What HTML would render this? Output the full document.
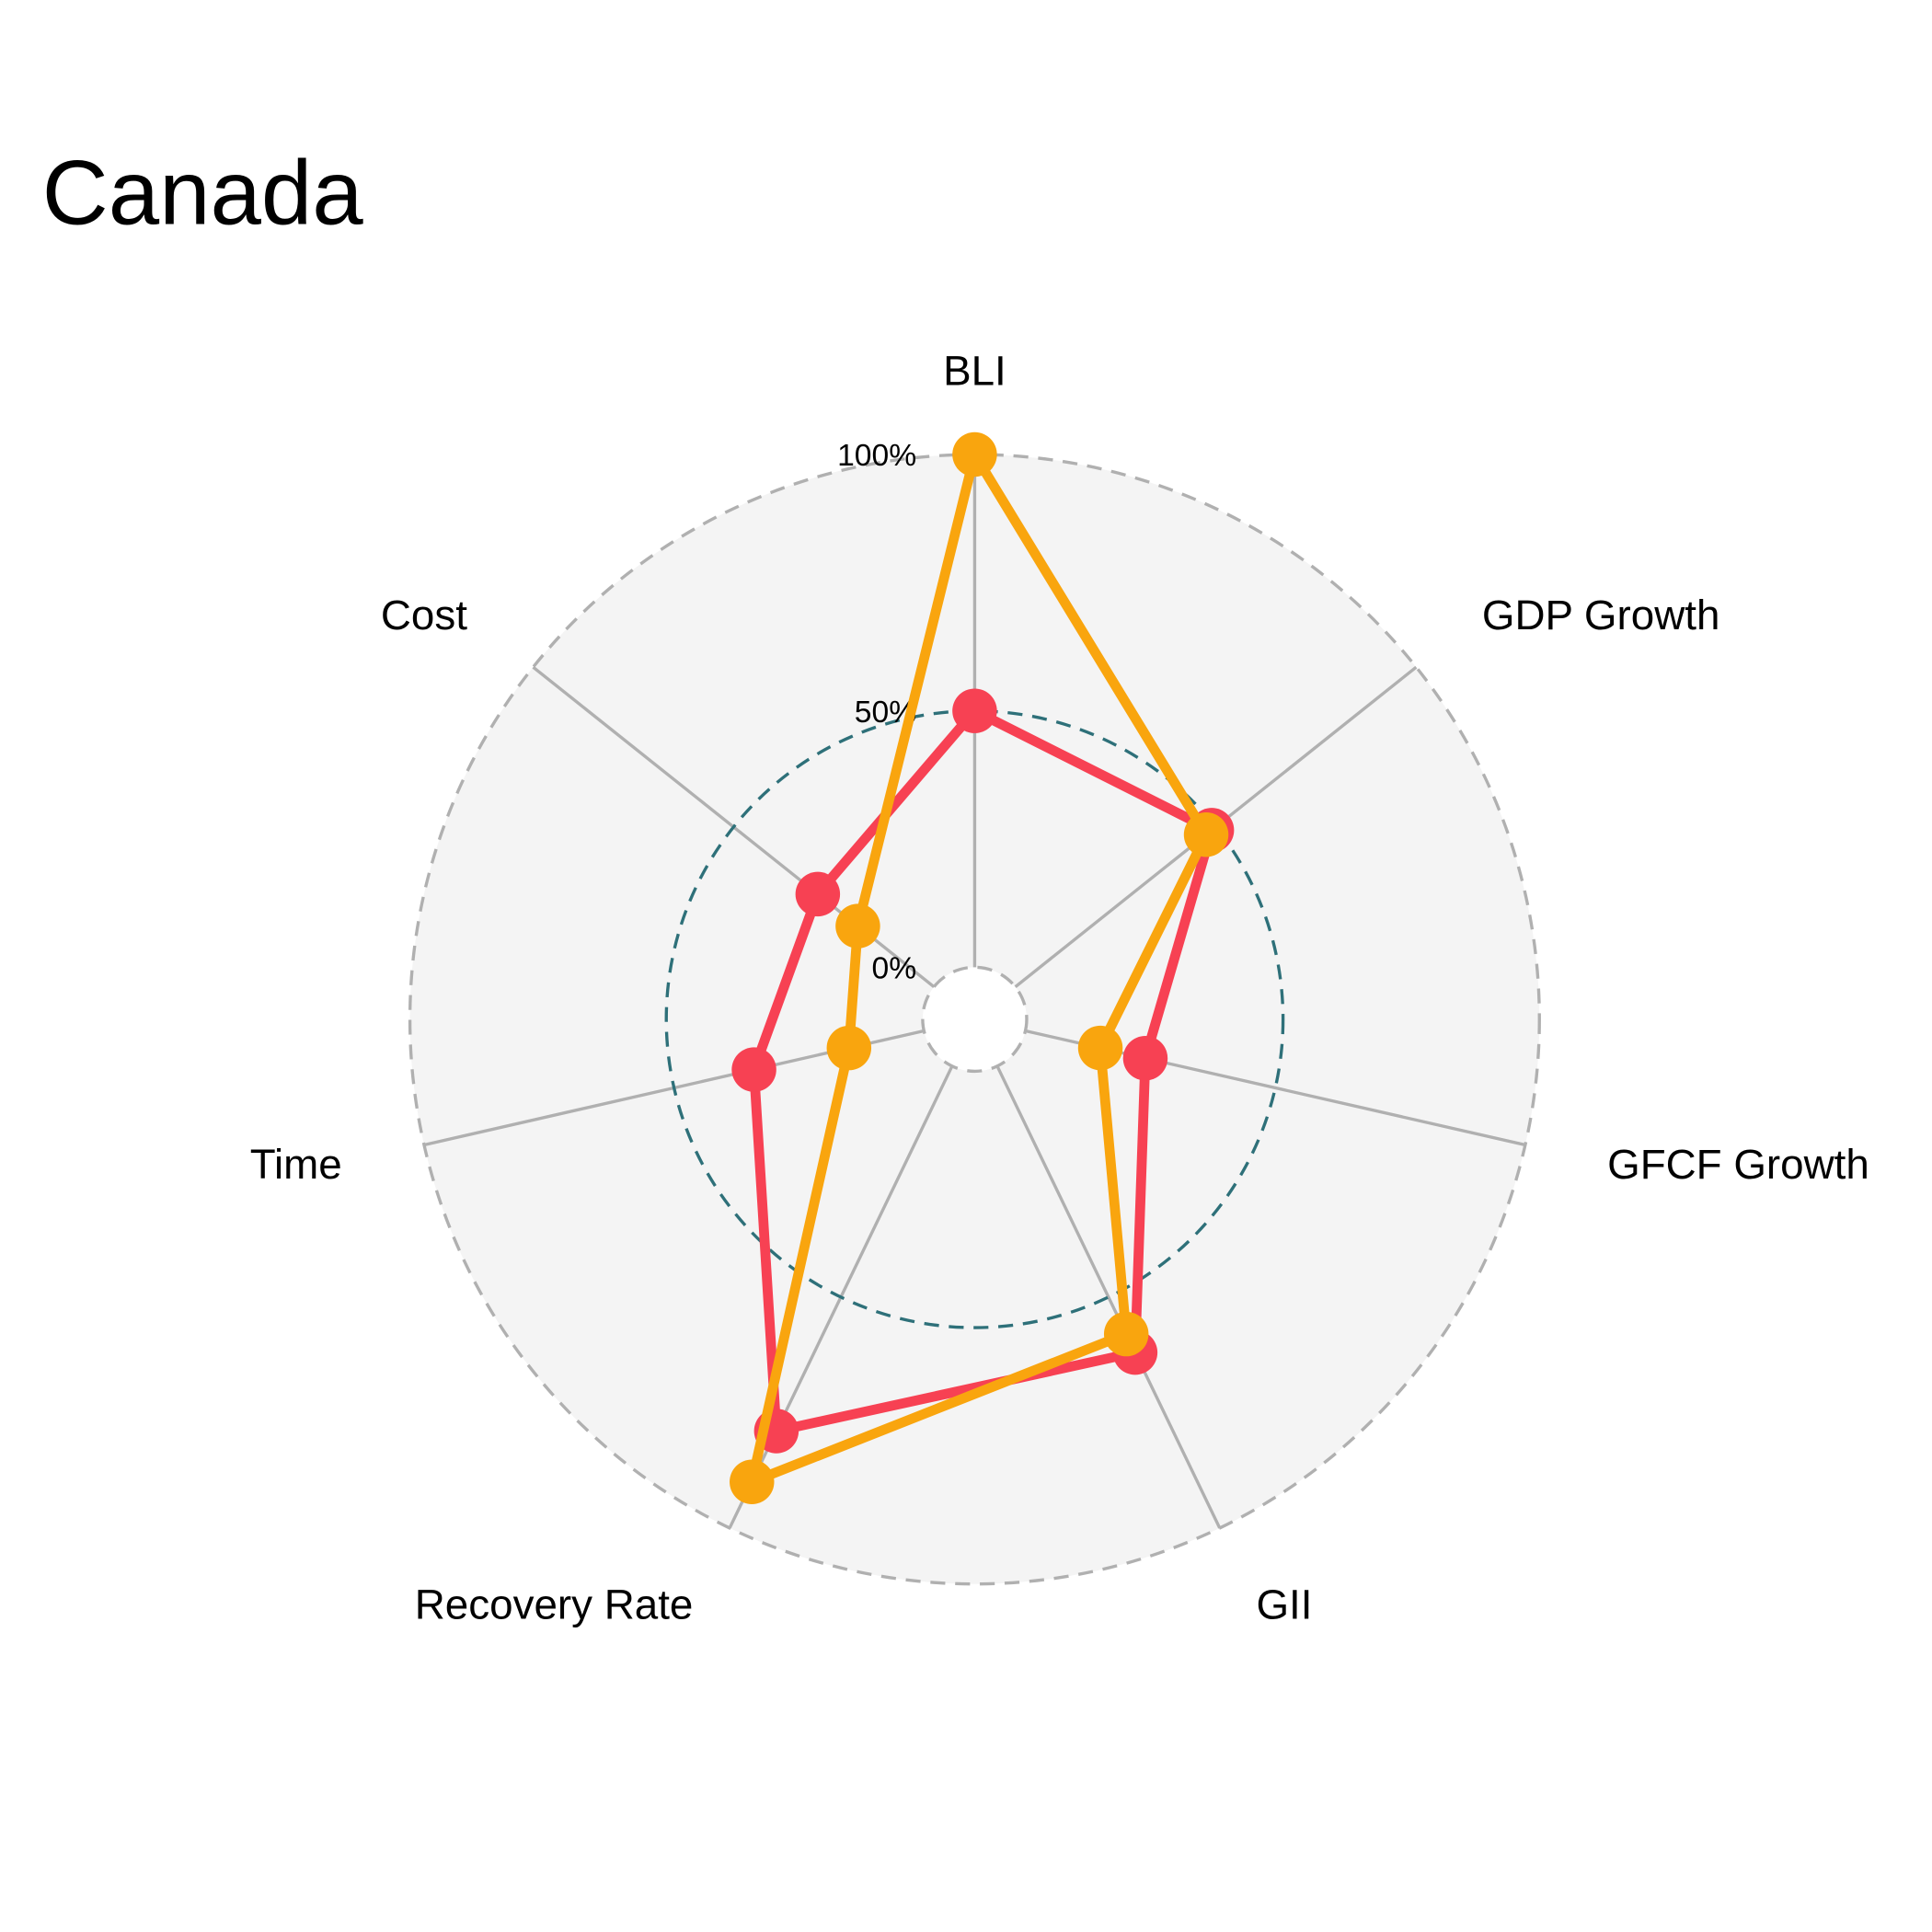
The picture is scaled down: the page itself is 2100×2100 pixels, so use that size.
<!DOCTYPE html>
<html><head><meta charset="utf-8"><style>html,body{margin:0;padding:0;background:#fff}svg{display:block}text{font-family:"Liberation Sans",Arial,sans-serif}</style></head>
<body>
<svg id="chart" width="2100" height="2100" viewBox="0 0 1560 1560" xmlns="http://www.w3.org/2000/svg">
<text x="34" y="181" font-size="74" fill="#000">Canada</text>
<g id="plot"></g>
</svg>
<script>
const categories = ["BLI","GDP Growth","GFCF Growth","GII","Recovery Rate","Time","Cost"];
const seriesRed = [50, 49, 24, 62, 79, 34, 29];
const seriesOrange = [100, 47.6, 15, 58, 90, 15, 19];
const tickValues = [0, 50, 100];
const tickLabels = ["0%","50%","100%"];

const NS="http://www.w3.org/2000/svg";
const cx=787, cy=823, r0=42, r1=456;
const g=document.getElementById('plot');
function rScale(v){return r0+v*(r1-r0)/100;}
function ang(i){return i*2*Math.PI/categories.length;}
function pt(i,v){const r=rScale(v),a=ang(i);return [cx+r*Math.sin(a), cy-r*Math.cos(a)];}
function mk(tag,attrs){const e=document.createElementNS(NS,tag);for(const k in attrs)e.setAttribute(k,attrs[k]);g.appendChild(e);return e;}

let bg=mk('circle',{cx:cx,cy:cy,r:r1,fill:'#f4f4f4'});


let hole=mk('circle',{cx:cx,cy:cy,r:r0,fill:'#fff'});



categories.forEach((c,i)=>{
  const [x1,y1]=pt(i,0),[x2,y2]=pt(i,100);
  const l=mk('line',{x1:x1,y1:y1,x2:x2,y2:y2,stroke:'#b0b0b0','stroke-width':2.5});
  
  
  const a=ang(i), rl=524, s=Math.sin(a);
  const lx=cx+rl*s, ly=cy-rl*Math.cos(a);
  const anchor=Math.abs(s)<0.01?'middle':(s>0?'start':'end');
  const t=mk('text',{x:lx,y:ly+12,'font-size':34,'text-anchor':anchor,fill:'#000'});
  t.textContent=c;
  
  
});

tickValues.forEach((v,i)=>{
  const teal=v===50;
  const c=mk('circle',{cx:cx,cy:cy,r:rScale(v),fill:'none',stroke:teal?'#2e7079':'#b0b0b0','stroke-width':2.5,'stroke-dasharray':'12 8'});
  
  
  const t=mk('text',{x:740,y:cy-rScale(v)+9,'font-size':25,'text-anchor':'end',fill:'#000'});
  t.textContent=tickLabels[i];
  
  
});

function drawSeries(vals,color,name){
  const pts=vals.map((v,i)=>pt(i,v));
  const p=mk('polygon',{points:pts.map(q=>q.join(',')).join(' '),fill:'none',stroke:color,'stroke-width':8,'stroke-linejoin':'round'});
  
  
  pts.forEach(q=>{
    const c=mk('circle',{cx:q[0],cy:q[1],r:18,fill:color});
    
    
  });
}
drawSeries(seriesRed,'#f74153','series-red');
drawSeries(seriesOrange,'#f9a50e','series-orange');
</script>
</body></html>
